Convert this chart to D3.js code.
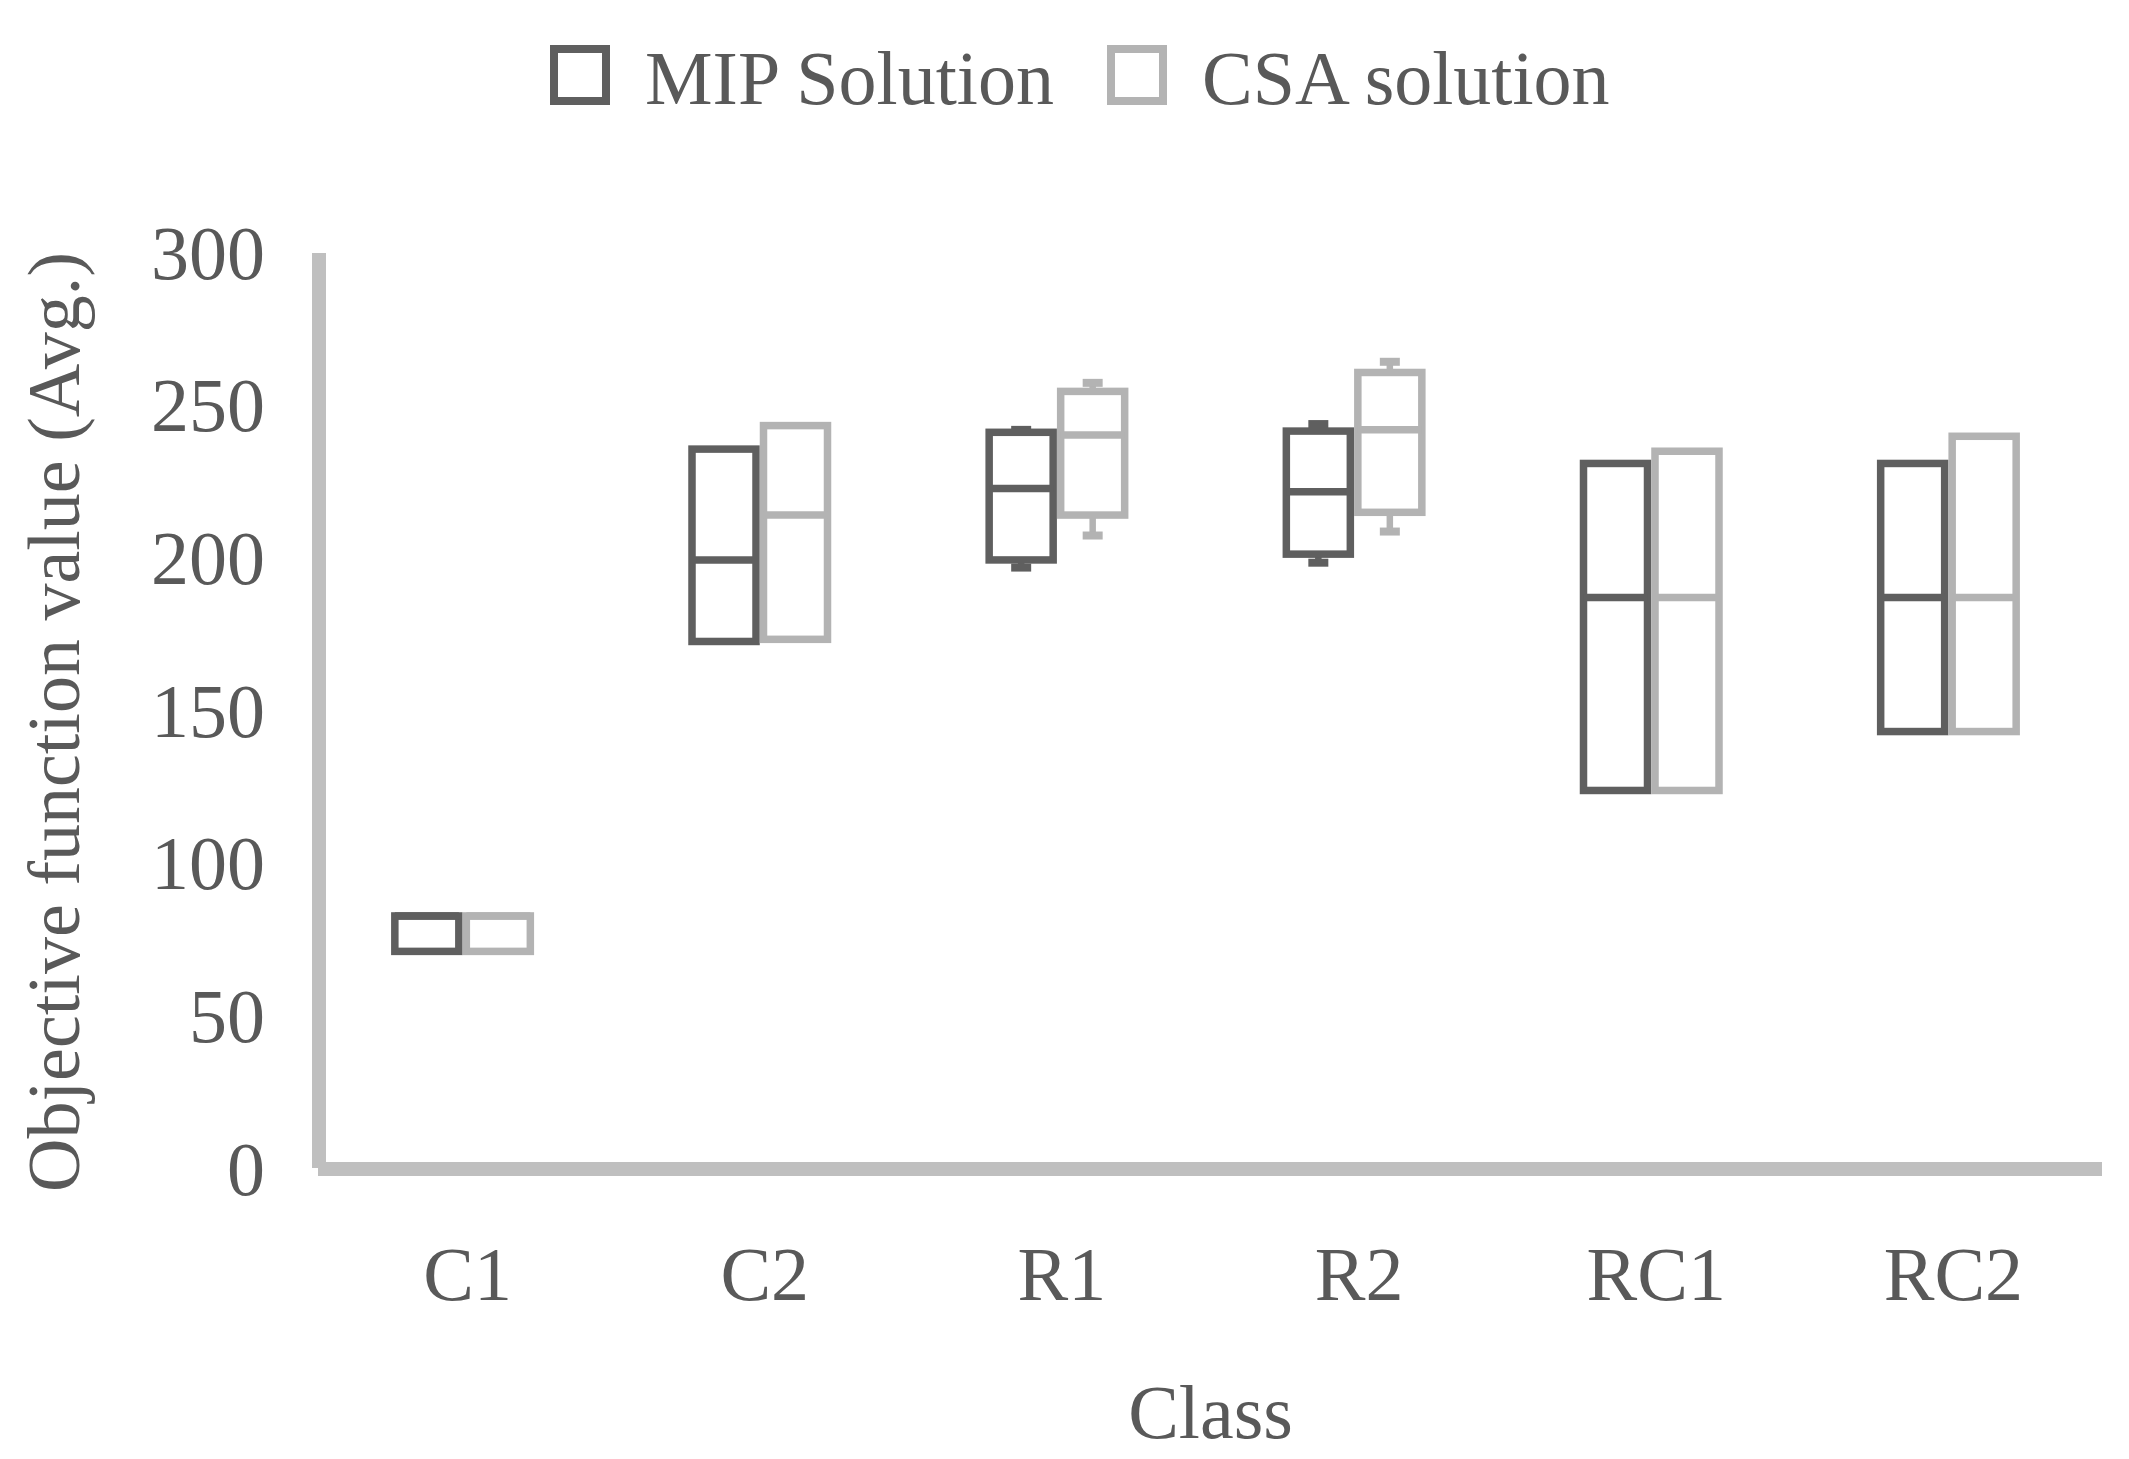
<!DOCTYPE html>
<html>
<head>
<meta charset="utf-8">
<script src="https://cdn.jsdelivr.net/npm/d3@7"></script>
<style>
  body { margin: 0; background: #fff; }
  text { font-family: "Liberation Serif", "Times New Roman", serif; fill: #595959; }
</style>
</head>
<body>
<div id="chart"></div>
<script>
// data
var classes = ["C1", "C2", "R1", "R2", "RC1", "RC2"];
var seriesNames = ["MIP Solution", "CSA solution"];
var yTicks = [0, 50, 100, 150, 200, 250, 300];

// [min, q1, median, q3, max] per class
var mipStats = [
  [71.6, 71.6, 83.2, 83.2, 83.2],
  [173.1, 173.1, 199.8, 236.1, 236.1],
  [197.3, 199.8, 223.2, 241.6, 242.4],
  [198.9, 201.7, 222.1, 242.0, 244.3],
  [124.3, 124.3, 187.5, 231.4, 231.4],
  [143.6, 143.6, 187.5, 231.4, 231.4]
];
var csaStats = [
  [71.6, 71.6, 83.2, 83.2, 83.2],
  [173.8, 173.8, 214.5, 243.8, 243.8],
  [207.8, 214.5, 240.7, 255.0, 257.8],
  [209.1, 215.4, 242.4, 261.2, 264.7],
  [124.3, 124.3, 187.5, 235.4, 235.4],
  [143.6, 143.6, 187.5, 240.3, 240.3]
];

var colours = ["#5f5f5f", "#b3b3b3"];

var W = 2129, H = 1459;
var margin = {left: 319, top: 254, right: 27, bottom: 289};
var width = W - margin.left - margin.right,
    height = H - margin.top - margin.bottom;

var svg = d3.select("#chart").append("svg")
    .attr("width", W)
    .attr("height", H);

var x = d3.scaleBand().domain(classes).range([0, width]).padding(0);
var y = d3.scaleLinear().domain([0, 300]).range([height + 0, 0]);

var g = svg.append("g")
    .attr("transform", "translate(" + margin.left + "," + margin.top + ")");

// axes lines (thick grey, like the original)
g.append("line")
    .attr("x1", 0).attr("x2", 0)
    .attr("y1", -1).attr("y2", height - 2)
    .attr("stroke", "#bfbfbf").attr("stroke-width", 14);
g.append("line")
    .attr("x1", -1).attr("x2", width)
    .attr("y1", height - 1).attr("y2", height - 1)
    .attr("stroke", "#bfbfbf").attr("stroke-width", 14);

// y tick labels
var yAxis = g.append("g")
    .call(d3.axisLeft(y).tickValues(yTicks).tickSize(0).tickPadding(54));
yAxis.select(".domain").remove();
yAxis.selectAll("text")
    .style("font-size", "76px")
    .attr("fill", "#595959")
    .attr("dy", "0.32em");

// x tick labels
var xAxis = g.append("g")
    .attr("transform", "translate(0," + height + ")")
    .call(d3.axisBottom(x).tickSize(0).tickPadding(76));
xAxis.select(".domain").remove();
xAxis.selectAll("text")
    .style("font-size", "76px")
    .attr("fill", "#595959");

// axis titles
g.append("text")
    .attr("x", width / 2)
    .attr("y", height + 268)
    .attr("text-anchor", "middle")
    .style("font-size", "76px")
    .text("Class");

g.append("text")
    .attr("transform", "translate(" + (-240) + "," + (height / 2 + 10) + ") rotate(-90)")
    .attr("text-anchor", "middle")
    .style("font-size", "74px")
    .text("Objective function value (Avg.)");

// boxes
var boxW = 64, sw = 7.5, capW = 20;
var allStats = [mipStats, csaStats];

allStats.forEach(function(stats, si) {
  var grp = g.append("g").attr("class", "series" + si);
  stats.forEach(function(s, i) {
    var cx = x(classes[i]) + x.bandwidth() / 2 - 5;
    var left = si === 0 ? cx - boxW - sw / 2 : cx + sw / 2;
    var mid = left + boxW / 2;
    var col = colours[si];
    // whiskers
    if (s[4] > s[3]) {
      grp.append("line").attr("x1", mid).attr("x2", mid)
        .attr("y1", y(s[4])).attr("y2", y(s[3]))
        .attr("stroke", col).attr("stroke-width", 6.5);
      grp.append("line").attr("x1", mid - capW / 2).attr("x2", mid + capW / 2)
        .attr("y1", y(s[4])).attr("y2", y(s[4]))
        .attr("stroke", col).attr("stroke-width", 8);
    }
    if (s[0] < s[1]) {
      grp.append("line").attr("x1", mid).attr("x2", mid)
        .attr("y1", y(s[1])).attr("y2", y(s[0]))
        .attr("stroke", col).attr("stroke-width", 6.5);
      grp.append("line").attr("x1", mid - capW / 2).attr("x2", mid + capW / 2)
        .attr("y1", y(s[0])).attr("y2", y(s[0]))
        .attr("stroke", col).attr("stroke-width", 8);
    }
    grp.append("rect")
      .attr("x", left)
      .attr("y", y(s[3]))
      .attr("width", boxW)
      .attr("height", y(s[1]) - y(s[3]))
      .attr("fill", "#fff")
      .attr("stroke", col)
      .attr("stroke-width", sw);
    grp.append("line")
      .attr("x1", left).attr("x2", left + boxW)
      .attr("y1", y(s[2])).attr("y2", y(s[2]))
      .attr("stroke", col).attr("stroke-width", sw);
  });
});

// legend
var legend = svg.append("g");
var legendX = [550, 1107];
seriesNames.forEach(function(name, i) {
  legend.append("rect")
    .attr("x", legendX[i] + 4)
    .attr("y", 49)
    .attr("width", 52)
    .attr("height", 52)
    .attr("fill", "#fff")
    .attr("stroke", colours[i])
    .attr("stroke-width", 8);
  legend.append("text")
    .attr("x", legendX[i] + 95)
    .attr("y", 104)
    .style("font-size", "76px")
    .text(name);
});
</script>
</body>
</html>
